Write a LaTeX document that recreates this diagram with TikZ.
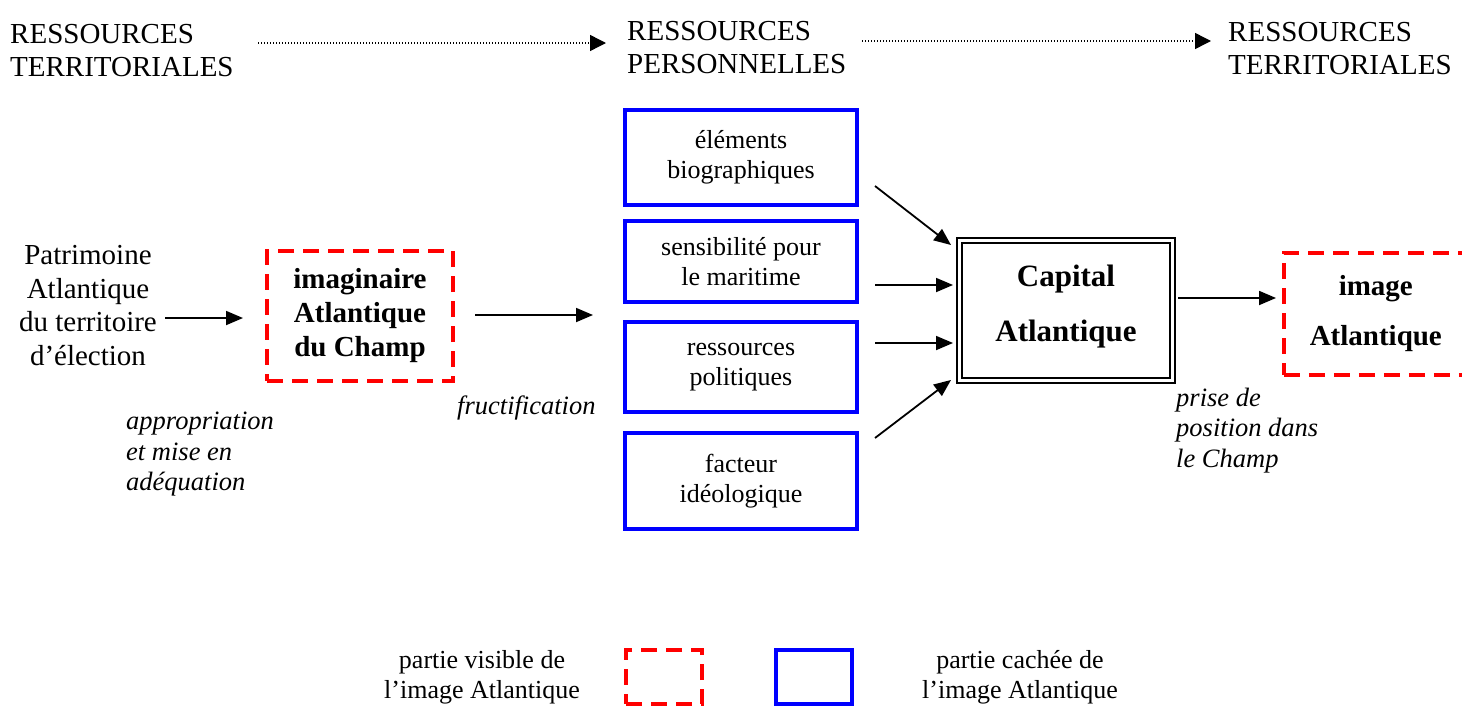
\documentclass[tikz,border=0pt]{standalone}
\usepackage{fontspec}
\setmainfont{Liberation Serif}
\usetikzlibrary{arrows.meta}
\begin{document}
\begin{tikzpicture}[x=1pt,y=-1pt,
  hdr/.style={font=\fontsize{29}{33}\selectfont, align=left, inner sep=0pt, anchor=west},
  body/.style={font=\fontsize{26}{30}\selectfont, align=center},
  bigtxt/.style={font=\fontsize{29}{33.7}\selectfont, align=center, inner sep=0pt},
  ital/.style={font=\fontsize{26.5}{30.5}\selectfont\itshape, align=left, inner sep=0pt, anchor=west},
  leg/.style={font=\fontsize{26}{30}\selectfont, align=center, inner sep=0pt},
  bluebox/.style={draw=blue, line width=4pt, body, inner sep=0pt},
  reddash/.style={draw=red, line width=3.6pt, dash pattern=on 16pt off 9pt, align=center, inner sep=0pt},
  capbox/.style={draw=black, double=white, double distance=2.5pt, line width=2pt, align=center, inner sep=0pt},
  arr/.style={line width=1.8pt, -{Triangle[length=17pt,width=14pt]}},
  dotarr/.style={line width=1.4pt, dash pattern=on 1.4pt off 1.6pt, -{Triangle[length=16pt,width=16pt]}}
]
\useasboundingbox (0,0) rectangle (1462,707);

% headers
\node[hdr] (h1) at (10,50.5) {RESSOURCES\\TERRITORIALES};
\node[hdr] (h2) at (627,47.5) {RESSOURCES\\PERSONNELLES};
\node[hdr] (h3) at (1228,49) {RESSOURCES\\TERRITORIALES};
\coordinate (d1s) at (258,43);
\coordinate (d1e) at (606,43);
\coordinate (d2s) at (862,41);
\coordinate (d2e) at (1211,41);
\draw[dotarr] (d1s) -- (d1e);
\draw[dotarr] (d2s) -- (d2e);

% left part
\node[bigtxt] (pat) at (88,305.5) {Patrimoine\\Atlantique\\du territoire\\d’élection};
\node[reddash, minimum width=186pt, minimum height=130pt,
      font=\fontsize{29}{34}\selectfont\bfseries] (imag) at (360,316) {imaginaire\\Atlantique\\du Champ};
\node[ital] (app) at (126,454.5) {appropriation\\et mise en\\adéquation};
\node[ital] (fru) at (457,408) {fructification};

% blue boxes
\node[bluebox, minimum width=232pt, minimum height=95pt] (b1) at (741,157.5) {éléments\\biographiques};
\node[bluebox, minimum width=232pt, minimum height=81pt] (b2) at (741,261.5) {sensibilité pour\\le maritime};
\node[bluebox, minimum width=232pt, minimum height=90pt] (b3) at (741,367) {ressources\\politiques};
\node[bluebox, minimum width=232pt, minimum height=96pt] (b4) at (741,481) {facteur\\idéologique};

% capital
\node[capbox, minimum width=213pt, minimum height=140pt] (cap) at (1066,310.5) {};
\node[font=\fontsize{31}{55}\selectfont\bfseries, align=center, inner sep=0pt] (capt) at (1066,306.5) {Capital\\Atlantique};

% image atlantique
\node[reddash, minimum width=184pt, minimum height=122pt, anchor=west,
      font=\fontsize{29}{50}\selectfont\bfseries] (img) at (1282,314) {image\\Atlantique};
\node[ital] (pri) at (1176,430.5) {prise de\\position dans\\le Champ};

% arrows
\coordinate (a0s) at (165,318);
\coordinate (a0e) at (243,318);
\draw[arr] (a0s) -- (a0e);
\coordinate (a1s) at (475,315);
\coordinate (a1e) at (593,315);
\draw[arr] (a1s) -- (a1e);
\coordinate (c1s) at (875,186);
\coordinate (c1e) at (951,245);
\coordinate (c2s) at (875,285);
\coordinate (c2e) at (953,285);
\coordinate (c3s) at (875,343);
\coordinate (c3e) at (953,343);
\coordinate (c4s) at (875,438);
\coordinate (c4e) at (951,380);
\draw[arr] (c1s) -- (c1e);
\draw[arr] (c2s) -- (c2e);
\draw[arr] (c3s) -- (c3e);
\draw[arr] (c4s) -- (c4e);
\coordinate (e1s) at (1178,298);
\coordinate (e1e) at (1276,298);
\draw[arr] (e1s) -- (e1e);

% legend
\node[leg] (lv) at (482,677) {partie visible de\\l’image Atlantique};
\node[reddash, minimum width=76pt, minimum height=54pt] (lr) at (664,677) {};
\node[draw=blue, line width=4pt, minimum width=76pt, minimum height=54pt] (lb) at (814,677) {};
\node[leg] (lc) at (1020,677) {partie cachée de\\l’image Atlantique};
\end{tikzpicture}
\end{document}
